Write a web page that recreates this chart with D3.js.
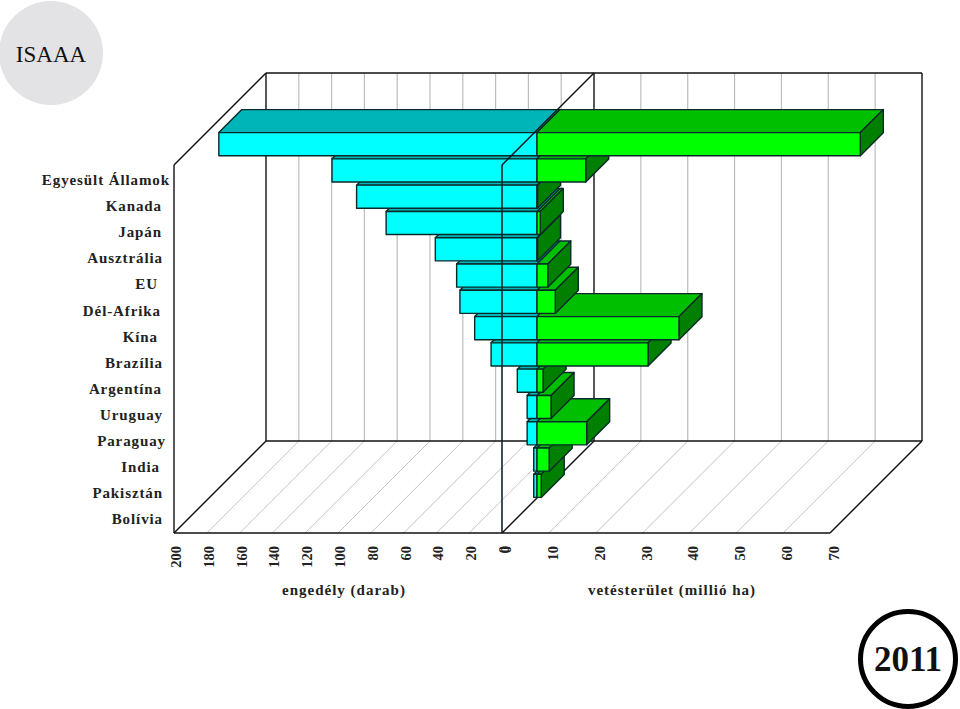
<!DOCTYPE html>
<html><head><meta charset="utf-8">
<script src="https://cdn.jsdelivr.net/npm/d3@7"></script>
<style>html,body{margin:0;padding:0;background:#fff}svg{display:block}text{font-family:"Liberation Serif",serif}</style>
</head><body><svg id="c" width="960" height="709"></svg>
<script>
const categories = ["Egyesült Államok","Kanada","Japán","Ausztrália","EU","Dél-Afrika","Kína","Brazília","Argentína","Uruguay","Paraguay","India","Pakisztán","Bolívia"];
const permits = [194,125,110,92,62,49,47,38,28,12,6,6,2,2];
const area = [69,10.4,0.1,0.7,0.1,2.3,3.9,30.3,23.7,1.3,3,10.6,2.6,0.9];
const permitTicks = [200,180,160,140,120,100,80,60,40,20,0];
const areaTicks = [0,10,20,30,40,50,60,70];

const svg = d3.select("#c");
const xL = d3.scaleLinear().domain([200,0]).range([174,502]);
const xR = d3.scaleLinear().domain([0,70]).range([502,830]);
const floorY=533, topY=165, D=92, barOff=35, barD=23;
const y = d3.scaleBand().domain(categories).range([131,499]).paddingInner(0.12).paddingOuter(0.06);
const line=(x1,y1,x2,y2,c,w)=>svg.append("line").attr("x1",x1).attr("y1",y1).attr("x2",x2).attr("y2",y2).attr("stroke",c).attr("stroke-width",w);

// badges
svg.append("circle").attr("cx",51).attr("cy",53).attr("r",52).attr("fill","#e3e3e5");
svg.append("text").attr("x",51).attr("y",62).attr("text-anchor","middle").attr("font-size",23).attr("fill","#111").text("ISAAA");
svg.append("circle").attr("cx",908).attr("cy",659).attr("r",47.5).attr("fill","#fff").attr("stroke","#000").attr("stroke-width",5);
svg.append("text").attr("x",908).attr("y",671).attr("text-anchor","middle").attr("font-size",35).attr("font-weight","bold").attr("fill","#111").text("2011");

// grid
const grid="#bdbdbd";
permitTicks.forEach(t=>{const X=xL(t); if(t!==200&&t!==0){line(X+D,topY-D,X+D,floorY-D,grid,1.2);} if(t!==0&&t!==200) line(X,floorY,X+D,floorY-D,"#b5b5b5",.8);});
areaTicks.forEach(t=>{const X=xR(t); if(t!==0&&t!==70){line(X+D,topY-D,X+D,floorY-D,grid,1.2); line(X,floorY,X+D,floorY-D,"#b5b5b5",.8);}});

// frame behind bars
const fr="#111";
line(xL(200)+D,topY-D,xR(70)+D,topY-D,fr,1.4);
line(xL(200)+D,topY-D,xL(200)+D,floorY-D,fr,1.4);
line(xL(0)+D,topY-D,xL(0)+D,floorY-D,fr,1.4);
line(xR(70)+D,topY-D,xR(70)+D,floorY-D,fr,1.4);
line(xL(200)+D,floorY-D,xR(70)+D,floorY-D,fr,1.4);
line(xL(200),floorY,xL(200)+D,floorY-D,fr,1.4);
line(xL(0),floorY,xL(0)+D,floorY-D,fr,1.4);
line(xR(70),floorY,xR(70)+D,floorY-D,fr,1.4);
line(xL(200),floorY,xR(70),floorY,fr,1.4);
line(xL(200),topY,xL(200),floorY,fr,1.4);
line(xL(200),topY,xL(200)+D,topY-D,fr,1.4);

// bars, drawn from the lowest row up
const stroke="#0a2a2a", sw=1.4, path=d3.path;
const poly=(pts,fill)=>svg.append("polygon").attr("points",pts.map(p=>p.join(",")).join(" ")).attr("fill",fill).attr("stroke",stroke).attr("stroke-width",sw).attr("stroke-linejoin","round");
categories.map((c,i)=>i).reverse().forEach(i=>{
  const c=categories[i], t=y(c), b=t+y.bandwidth();
  const x0=xL(0)+barOff, l=xL(permits[i])+barOff, r=xR(area[i])+barOff;
  poly([[l,t],[l+barD,t-barD],[x0+barD,t-barD],[x0,t]],"#00b5b8");
  poly([[l,t],[x0,t],[x0,b],[l,b]],"#00ffff");
  poly([[x0,t],[x0+barD,t-barD],[r+barD,t-barD],[r,t]],"#00bf00");
  poly([[r,t],[r+barD,t-barD],[r+barD,b-barD],[r,b]],"#007f00");
  poly([[x0,t],[r,t],[r,b],[x0,b]],"#00ff00");
});

// front zero plane lines over bars
line(xL(0),topY,xL(0),floorY,"#123",1.6);
line(xL(0),topY,xL(0)+D,topY-D,"#111",1.4);

// category labels
const labelEnd=[170,162,162,163,158,161,158,163,162,163,166,160,163,163];
categories.forEach((c,i)=>{
  svg.append("text").attr("x",labelEnd[i]).attr("y",185+i*26.1).attr("text-anchor","end").attr("font-size",15).attr("font-weight","bold").attr("letter-spacing",0.9).attr("fill","#222").text(c);
});

// tick labels
const tick=(t,X)=>svg.append("text").attr("transform",`translate(${X+7},546) rotate(-90)`).attr("text-anchor","end").attr("font-size",14.5).attr("font-weight","bold").attr("fill","#222").text(t);
permitTicks.forEach(t=>tick(t,xL(t)));
areaTicks.forEach(t=>tick(t,xR(t)+2));

// axis titles
svg.append("text").attr("x",344).attr("y",595).attr("text-anchor","middle").attr("font-size",15).attr("font-weight","bold").attr("letter-spacing",1).attr("fill","#222").text("engedély (darab)");
svg.append("text").attr("x",672).attr("y",595).attr("text-anchor","middle").attr("font-size",15).attr("font-weight","bold").attr("letter-spacing",1).attr("fill","#222").text("vetésterület (millió ha)");
</script></body></html>
